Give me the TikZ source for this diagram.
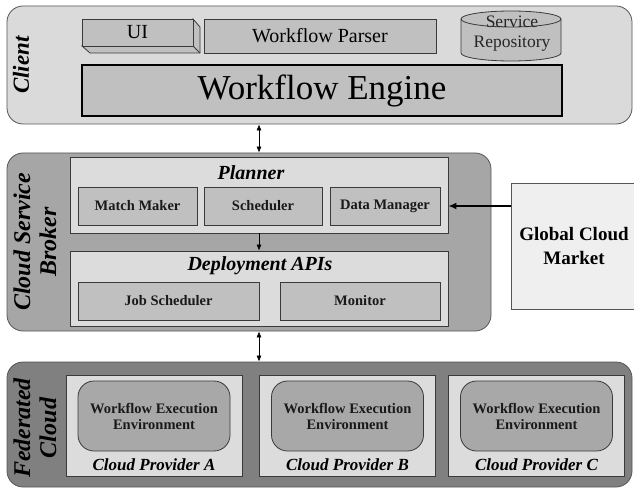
\documentclass[tikz,border=0pt]{standalone}
\usepackage{fontspec}
\setmainfont{Liberation Serif}
\usetikzlibrary{arrows.meta}
\definecolor{clientfill}{HTML}{DADADA}
\definecolor{midfill}{HTML}{C0C0C0}
\definecolor{brokerfill}{HTML}{A6A6A6}
\definecolor{fedfill}{HTML}{808080}
\definecolor{lightfill}{HTML}{DCDCDC}
\definecolor{weefill}{HTML}{A8A8A8}
\definecolor{gcmfill}{HTML}{EFEFEF}
\definecolor{edgegray}{HTML}{555555}
\definecolor{inedge}{HTML}{3A3A3A}
\tikzset{
  layer/.style={draw=edgegray, line width=0.8pt, rounded corners=16pt, inner sep=0pt},
  innerbox/.style={draw=inedge, line width=0.8pt, fill=midfill, inner sep=0pt},
  panel/.style={draw=inedge, line width=0.8pt, fill=lightfill, inner sep=0pt},
  boldlbl/.style={font=\fontsize{14.5}{16}\selectfont\bfseries, text=black!90},
  sidelbl/.style={rotate=90, align=center, font=\fontsize{24}{26}\selectfont\bfseries\itshape},
  conn/.style={line width=0.6pt, -{Latex[length=6pt,width=5pt]}},
  biconn/.style={line width=0.6pt, {Latex[length=6pt,width=5pt]}-{Latex[length=6pt,width=5pt]}}
}
\begin{document}
\begin{tikzpicture}[x=1pt,y=-1pt]
\useasboundingbox (0,0) rectangle (634,489);
% layers
\node[layer, fill=clientfill, minimum width=625pt, minimum height=118pt] (client) at (319.5,65) {};
\node[layer, fill=brokerfill, minimum width=484pt, minimum height=178pt] (broker) at (249,242) {};
\node[layer, fill=fedfill, minimum width=625pt, minimum height=125pt] (fed) at (319.5,424.5) {};
\node[draw=edgegray, line width=0.8pt, fill=gcmfill, minimum width=126pt, minimum height=126pt, align=center,
      font=\fontsize{19}{24}\selectfont\bfseries] (gcm) at (574,246) {Global Cloud\\Market};
% side labels
\node[sidelbl, font=\fontsize{23}{26}\selectfont\bfseries\itshape] (clientlbl) at (21,65) {Client};
\node[sidelbl] (brokerlbl) at (35,242) {Cloud Service\\Broker};
\node[sidelbl] (fedlbl) at (35,428) {Federated\\Cloud};
% client contents
\fill[midfill, draw=inedge, line width=0.8pt] (82,46) -- (90,53) -- (200,53) -- (200,27) -- (193,19) -- (193,46) -- cycle;
\node[innerbox, minimum width=111pt, minimum height=27pt, font=\fontsize{20}{22}\selectfont] (ui) at (137.5,32.5) {UI};
\draw[inedge, line width=0.8pt] (ui.south east) -- (200,53);
\node[innerbox, minimum width=232pt, minimum height=34pt, font=\fontsize{20}{22}\selectfont] (parser) at (320,36) {Workflow Parser};
\path[fill=midfill, draw=inedge, line width=0.8pt] (461,19) -- (461,53) arc[start angle=180, end angle=0, x radius=50, y radius=8] -- (561,19) arc[start angle=0, end angle=-180, x radius=50, y radius=8] -- cycle;
\draw[inedge, line width=0.8pt] (461,19) arc[start angle=180, end angle=0, x radius=50, y radius=8];
\node[align=center, inner sep=0pt, font=\fontsize{17.5}{20}\selectfont, text=black!85] (repo) at (512,34) {Service\\Repository};
\node[draw=black, line width=1.2pt, fill=midfill, inner sep=0pt, minimum width=480pt, minimum height=51pt,
      font=\fontsize{35}{38}\selectfont] (engine) at (322,90.5) {Workflow Engine};
% broker contents
\node[panel, minimum width=378pt, minimum height=76pt] (planner) at (259,195) {};
\node[font=\fontsize{20}{22}\selectfont\bfseries\itshape, inner sep=0pt] (plannerlbl) at (251,173) {Planner};
\node[innerbox, boldlbl, minimum width=119pt, minimum height=38pt] (mm) at (137.5,206) {Match Maker};
\node[innerbox, boldlbl, minimum width=118pt, minimum height=38pt] (sched) at (263,206) {Scheduler};
\node[innerbox, boldlbl, minimum width=110pt, minimum height=38pt] (dm) at (385,206) {Data Manager};
\node[panel, minimum width=378pt, minimum height=75pt] (deploy) at (259,288.5) {};
\node[font=\fontsize{20}{22}\selectfont\bfseries\itshape, inner sep=0pt] (deploylbl) at (260,266) {Deployment APIs};
\node[innerbox, boldlbl, minimum width=181pt, minimum height=38pt] (js) at (168.5,301) {Job Scheduler};
\node[innerbox, boldlbl, minimum width=160pt, minimum height=38pt] (mon) at (360,301) {Monitor};
% federated contents
\foreach \n/\cx/\l in {pa/154/A, pb/347.5/B, pc/536.5/C}{
  \node[panel, minimum width=176pt, minimum height=101pt] (\n) at (\cx,425.5) {};
  \node[draw=inedge, line width=0.8pt, fill=weefill, rounded corners=16pt, minimum width=152pt, minimum height=70pt,
        inner sep=0pt, align=center, boldlbl] (\n wee) at (\cx,416) {Workflow Execution\\Environment};
  \node[font=\fontsize{17}{19}\selectfont\bfseries\itshape, inner sep=0pt] (\n lbl) at (\cx,465) {Cloud Provider \l};
}
% connectors
\coordinate (a1) at (259,124);
\draw[biconn] (client.south -| a1) -- (broker.north -| a1);
\draw[conn] (planner.south -| a1) -- (deploy.north -| a1);
\draw[biconn] (broker.south -| a1) -- (fed.north -| a1);
\draw[line width=1.6pt, -{Latex[length=8pt,width=7pt]}] (gcm.west |- dm.east) -- (planner.east |- dm.east);
\end{tikzpicture}
\end{document}
